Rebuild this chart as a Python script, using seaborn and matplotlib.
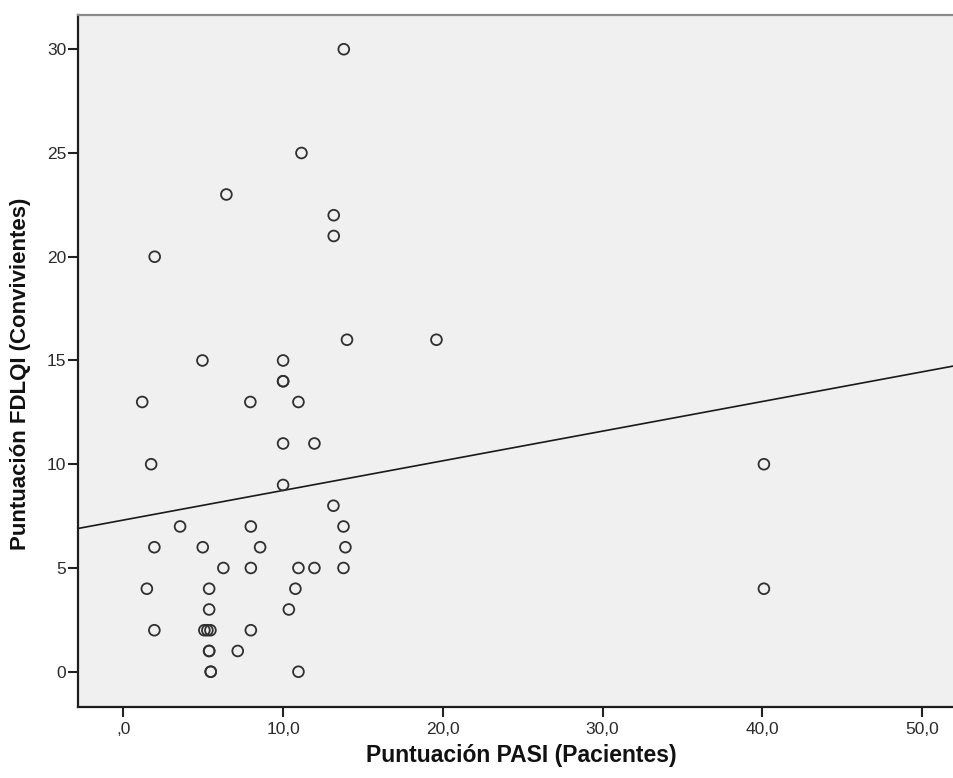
import numpy as np
import pandas as pd
import matplotlib
matplotlib.use("Agg")
import matplotlib.pyplot as plt
import seaborn as sns

# PASI score of each patient and FDLQI score of the person living with them
pasi = [13.8, 11.15, 6.45, 13.17, 13.17, 1.96, 14.0, 19.6, 4.95, 10.0,
        10.0, 10.0, 1.18, 7.95, 10.96, 10.0, 11.96, 1.74, 40.1, 10.0,
        13.15, 3.55, 7.98, 13.78, 1.94, 4.97, 8.56, 13.9, 6.26, 7.98,
        10.96, 11.96, 13.78, 1.47, 5.37, 10.77, 40.1, 5.37, 10.36, 1.94,
        5.07, 5.26, 5.45, 7.98, 5.37, 5.37, 7.16, 5.47, 5.47, 10.96]
fdlqi = [30, 25, 23, 22, 21, 20, 16, 16, 15, 15,
         14, 14, 13, 13, 13, 11, 11, 10, 10, 9,
         8, 7, 7, 7, 6, 6, 6, 6, 5, 5,
         5, 5, 5, 4, 4, 4, 4, 3, 3, 2,
         2, 2, 2, 2, 1, 1, 1, 0, 0, 0]

x_ticks = [0, 10, 20, 30, 40, 50]
x_tick_labels = [",0", "10,0", "20,0", "30,0", "40,0", "50,0"]
y_ticks = [0, 5, 10, 15, 20, 25, 30]
y_tick_labels = ["0", "5", "10", "15", "20", "25", "30"]

x_label = "Puntuación PASI (Pacientes)"
y_label = "Puntuación FDLQI (Convivientes)"

df = pd.DataFrame({"pasi": pasi, "fdlqi": fdlqi})

sns.set_theme(style="white")
plt.rcParams["font.family"] = ["Liberation Sans", "DejaVu Sans"]

fig = plt.figure(figsize=(9.54, 7.78), dpi=100)
ax = fig.add_axes([78 / 954, 1 - 707 / 778, 1 - 78 / 954, (707 - 15) / 778])
ax.set_facecolor("#f0f0f0")

ax.set_xlim(-2.84, 52.0)
ax.set_ylim(-1.70, 31.65)

sns.scatterplot(data=df, x="pasi", y="fdlqi", ax=ax, marker="o", s=60,
                facecolors="none", edgecolor="#303030", linewidth=1.3,
                zorder=3, legend=False)

# least-squares fit line across the whole horizontal range
sns.regplot(data=df, x="pasi", y="fdlqi", ax=ax, scatter=False, ci=None,
            truncate=False, line_kws={"color": "#1a1a1a", "linewidth": 1.2})
ax.set_xlim(-2.84, 52.0)

ax.set_xticks(x_ticks)
ax.set_xticklabels(x_tick_labels)
ax.set_yticks(y_ticks)
ax.set_yticklabels(y_tick_labels)

ax.tick_params(axis="both", which="major", direction="out", length=7,
               width=1.5, color="#222222", labelsize=12.5, labelcolor="#2a2a2a",
               bottom=True, left=True)
ax.tick_params(axis="x", pad=4)
ax.tick_params(axis="y", pad=1.5)

for side in ("left", "bottom"):
    ax.spines[side].set_color("#1e1e1e")
    ax.spines[side].set_linewidth(1.6)
ax.spines["top"].set_color("#8a8a8a")
ax.spines["top"].set_linewidth(1.6)
ax.spines["right"].set_visible(False)

ax.set_xlabel(x_label, fontsize=16.5, fontweight="bold", color="#111111",
              labelpad=5)
ax.set_ylabel(y_label, fontsize=16, fontweight="bold", color="#111111",
              labelpad=11)
ax.xaxis.label.set_x(0.506)
ax.yaxis.label.set_y(0.481)

fig.savefig("out.png", dpi=100)
